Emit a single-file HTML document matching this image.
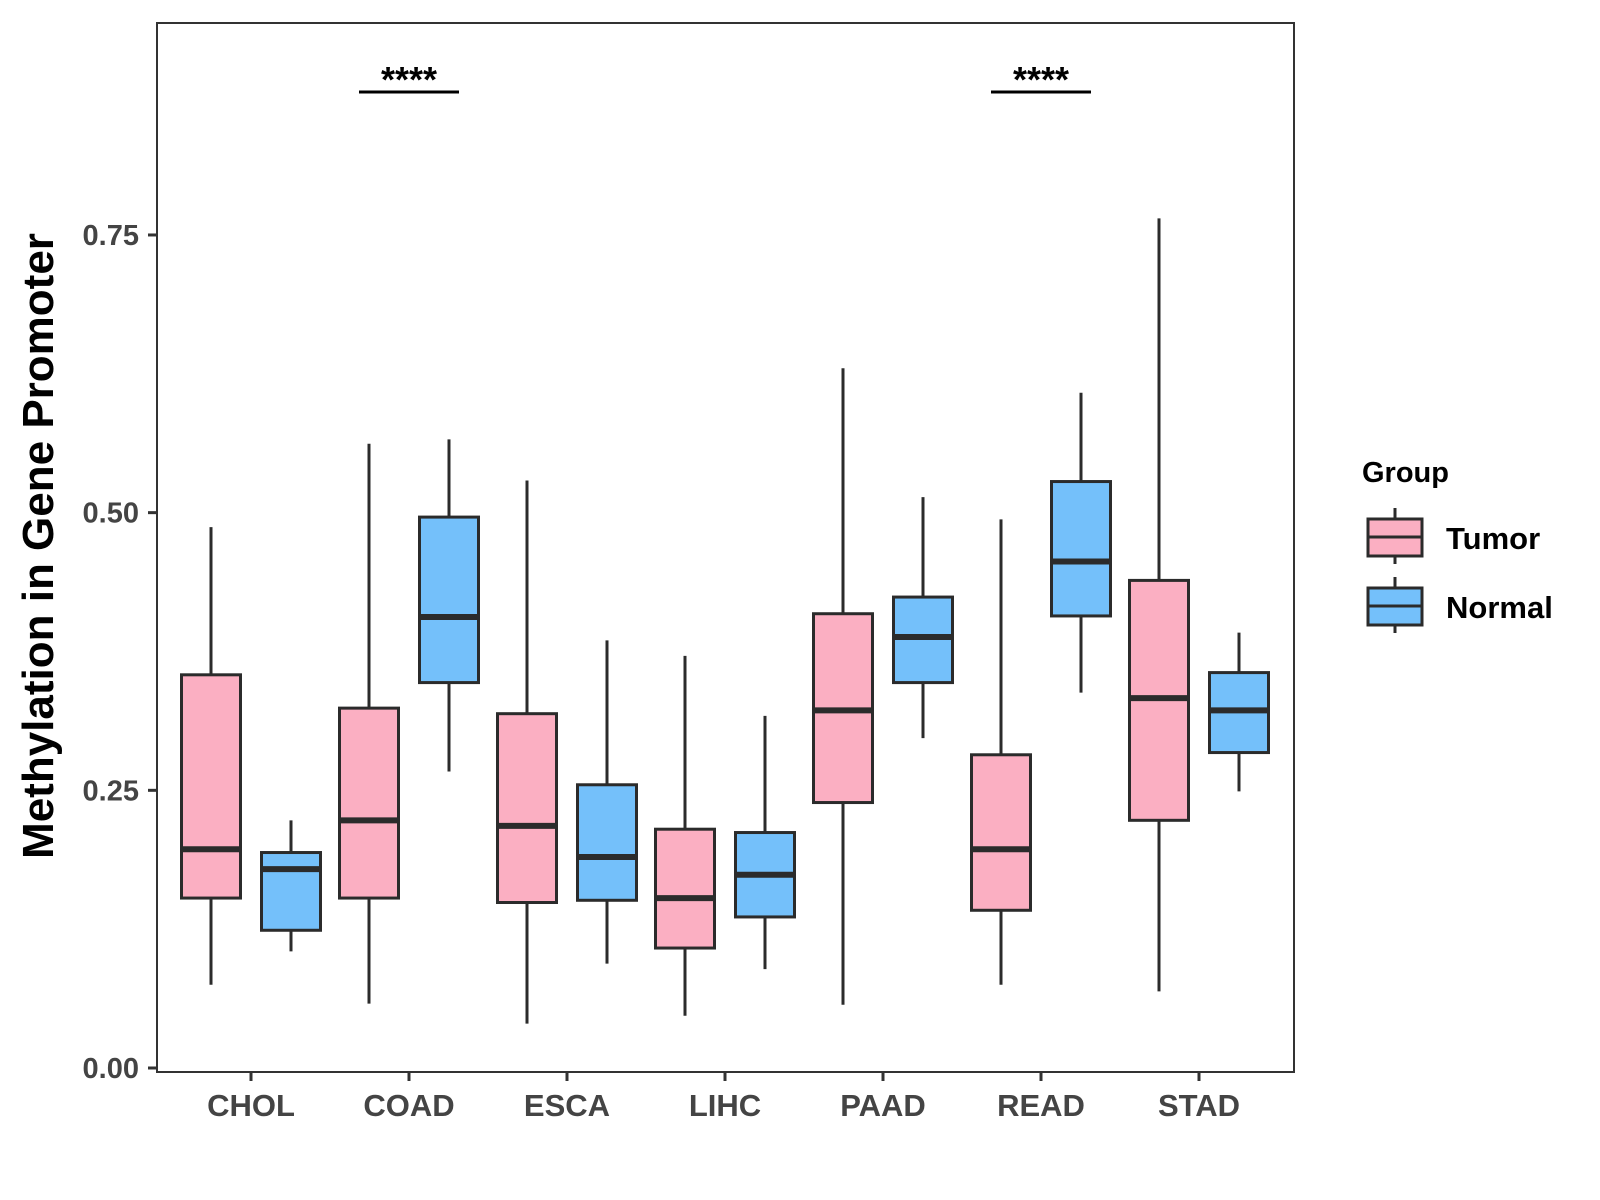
<!DOCTYPE html>
<html><head><meta charset="utf-8"><style>
body{margin:0;background:#fff}
svg{display:block;font-family:"Liberation Sans",Arial,sans-serif}
</style></head><body>
<svg id="chart" width="1600" height="1200" viewBox="0 0 1600 1200" xmlns="http://www.w3.org/2000/svg">
<rect x="157" y="23" width="1137" height="1049" fill="#fff" stroke="#333" stroke-width="2"/>
<g id="marks"></g>
<text transform="translate(53,546) rotate(-90)" text-anchor="middle" font-size="44" font-weight="bold" fill="#000">Methylation in Gene Promoter</text>
<g>
<text x="1362" y="482" font-size="29" font-weight="bold">Group</text>
<g>
<line x1="1395" y1="508" x2="1395" y2="564" stroke="#2b2b2b" stroke-width="3"/>
<rect x="1368" y="519" width="54" height="37" fill="#FBAFC2" stroke="#2b2b2b" stroke-width="3"/>
<line x1="1368" y1="537" x2="1422" y2="537" stroke="#2b2b2b" stroke-width="3"/>
<text x="1446" y="549" font-size="31" font-weight="bold">Tumor</text></g>
<g>
<line x1="1395" y1="577" x2="1395" y2="633" stroke="#2b2b2b" stroke-width="3"/>
<rect x="1368" y="588" width="54" height="37" fill="#74C0FA" stroke="#2b2b2b" stroke-width="3"/>
<line x1="1368" y1="606" x2="1422" y2="606" stroke="#2b2b2b" stroke-width="3"/>
<text x="1446" y="618" font-size="31" font-weight="bold">Normal</text></g>
</g>
</svg>
<script>
const categories=["CHOL","COAD","ESCA","LIHC","PAAD","READ","STAD"];
const tumorStats=[[0.075,0.153,0.197,0.354,0.487],[0.058,0.153,0.223,0.324,0.562],[0.040,0.149,0.218,0.319,0.529],[0.047,0.108,0.153,0.215,0.371],[0.057,0.239,0.322,0.409,0.630],[0.075,0.142,0.197,0.282,0.494],[0.069,0.223,0.333,0.439,0.765]];
const normalStats=[[0.105,0.124,0.179,0.194,0.223],[0.267,0.347,0.406,0.496,0.566],[0.094,0.151,0.190,0.255,0.385],[0.089,0.136,0.174,0.212,0.317],[0.297,0.347,0.388,0.424,0.514],[0.338,0.407,0.456,0.528,0.608],[0.249,0.284,0.322,0.356,0.392]];
const yTicks=[0,0.25,0.5,0.75];
const yTickLabels=["0.00","0.25","0.50","0.75"];
const sigCategories=["COAD","READ"];
const sigLabels=["****","****"];
const NS="http://www.w3.org/2000/svg";
const g=document.getElementById("marks");
function y(v){return 1068-v*1110.7;}
function x(i){return 251+i*158;}
function el(t,a){const e=document.createElementNS(NS,t);for(const k in a)e.setAttribute(k,a[k]);g.appendChild(e);return e;}
yTicks.forEach((t,i)=>{
 const tk=el("line",{x1:148,x2:157,y1:y(t),y2:y(t),stroke:"#333","stroke-width":3});
 
 
 const lb=el("text",{x:139,y:y(t)+10,"text-anchor":"end","font-size":29,"font-weight":"bold",fill:"#444"});
 lb.textContent=yTickLabels[i];
 
 
});
categories.forEach((c,i)=>{
 const tk=el("line",{x1:x(i),x2:x(i),y1:1072,y2:1081,stroke:"#333","stroke-width":3});
 
 
 const lb=el("text",{x:x(i),y:1116,"text-anchor":"middle","font-size":31,"font-weight":"bold",fill:"#444"});
 lb.textContent=c;
 
 
 [[tumorStats[i],-40,"#FBAFC2","tumor"],[normalStats[i],40,"#74C0FA","normal"]].forEach(([s,off,col,nm])=>{
  const cx=x(i)+off,w=59;
  const wh=el("line",{x1:cx,x2:cx,y1:y(s[0]),y2:y(s[4]),stroke:"#2b2b2b","stroke-width":3});
  
  
  const b=el("rect",{x:cx-w/2,y:y(s[3]),width:w,height:y(s[1])-y(s[3]),fill:col,stroke:"#2b2b2b","stroke-width":3});
  
  
  const m=el("line",{x1:cx-w/2,x2:cx+w/2,y1:y(s[2]),y2:y(s[2]),stroke:"#2b2b2b","stroke-width":6});
  
  
 });
});
sigCategories.forEach((c,j)=>{
 const i=categories.indexOf(c);
 const l=el("line",{x1:x(i)-50,x2:x(i)+50,y1:92,y2:92,stroke:"#000","stroke-width":3});
 
 
 const t=el("text",{x:x(i),y:92,"text-anchor":"middle","font-size":36,"font-weight":"bold",fill:"#000"});
 t.textContent=sigLabels[j];
 
 
});
</script>
</body></html>
